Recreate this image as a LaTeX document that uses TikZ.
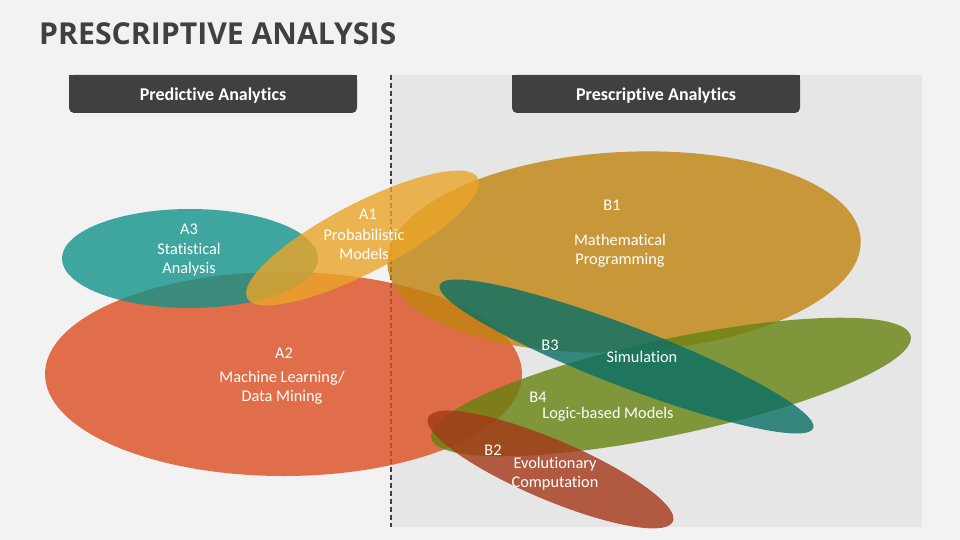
\documentclass[tikz,border=0pt]{standalone}
\usepackage{fontspec}
\setmainfont{Carlito}[RawFeature={-liga}]
\newfontfamily\titlefont{Open Sans}
\definecolor{bgc}{HTML}{F2F2F2}
\definecolor{panelc}{HTML}{E6E6E6}
\definecolor{darkc}{HTML}{404040}
\definecolor{cAthree}{RGB}{18,147,137}
\definecolor{cAtwo}{RGB}{221,78,32}
\definecolor{cAone}{RGB}{235,165,40}
\definecolor{cBone}{RGB}{192,132,15}
\definecolor{cBthree}{RGB}{8,111,102}
\definecolor{cBfour}{RGB}{102,130,17}
\definecolor{cBtwo}{RGB}{165,55,24}
\begin{document}
\begin{tikzpicture}[x=1pt,y=-1pt,
  blob/.style={fill opacity=0.8},
  lbl/.style={text=white, font=\fontsize{16.3}{19.5}\selectfont, align=center, inner sep=0pt},
  hdr/.style={fill=darkc, rounded corners=5pt, minimum width=288pt, minimum height=38pt, inner sep=0pt},
  hdrtext/.style={text=white, font=\bfseries\fontsize{18}{20}\selectfont, inner sep=0pt}]
\useasboundingbox (0,0) rectangle (960,540);
\fill[bgc] (0,0) rectangle (960,540);
\fill[panelc] (391,75) rectangle (922,527);
% title
\node[anchor=base west, inner sep=0pt, text=darkc, font=\titlefont\bfseries\fontsize{30.2}{31}\selectfont] (title) at (39,45) {PRESCRIPTIVE ANALYSIS};
% headers
\node[hdr] (hleft) at (213,94) {};
\fill[darkc] (69,75) rectangle (357,92);
\node[hdrtext] (hlefttext) at (213,96) {Predictive Analytics};
\node[hdr] (hright) at (656,94) {};
\fill[darkc] (512,75) rectangle (800,92);
\node[hdrtext] (hrighttext) at (656,96) {Prescriptive Analytics};
% divider
\coordinate (dtop) at (391,75);
\coordinate (dbot) at (391,527);
\draw[darkc, line width=1.3pt, dash pattern=on 5pt off 3pt] (dtop) -- (dbot);
% ellipses
\fill[blob, cAtwo] (283.5,374) ellipse [x radius=238.5pt, y radius=102pt];
\fill[blob, cAthree] (190,258.5) ellipse [x radius=128pt, y radius=49.5pt];
\fill[blob, cBone, rotate around={3:(624,252)}] (624,252) ellipse [x radius=237pt, y radius=100pt];
\fill[blob, cAone, rotate around={27.5:(362.5,238)}] (362.5,238) ellipse [x radius=130pt, y radius=34.5pt];
\fill[blob, cBfour, rotate around={12:(671,387)}] (671,387) ellipse [x radius=245pt, y radius=48pt];
\fill[blob, cBthree, rotate around={-21:(626.5,356.5)}] (626.5,356.5) ellipse [x radius=200pt, y radius=30pt];
\fill[blob, cBtwo, rotate around={-23:(550.5,469.5)}] (550.5,469.5) ellipse [x radius=133pt, y radius=30pt];
% labels
\node[lbl] (a3id) at (189,229) {A3};
\node[lbl] (a3name) at (189,259.5) {Statistical\\Analysis};
\node[lbl] (a1id) at (368,214) {A1};
\node[lbl] (a1name) at (364,244.5) {Probabilistic\\Models};
\node[lbl] (a2id) at (284,353) {A2};
\node[lbl] (a2name) at (282,387.5) {Machine Learning/\\Data Mining};
\node[lbl] (b1id) at (612,205) {B1};
\node[lbl] (b1name) at (620,250.5) {Mathematical\\Programming};
\node[lbl] (b3id) at (550,345) {B3};
\node[lbl] (b3name) at (642,357) {Simulation};
\node[lbl] (b4id) at (538,397) {B4};
\node[lbl] (b4name) at (608,414) {Logic-based Models};
\node[lbl] (b2id) at (493,450) {B2};
\node[lbl] (b2name) at (555,473.5) {Evolutionary\\Computation};
\end{tikzpicture}
\end{document}
